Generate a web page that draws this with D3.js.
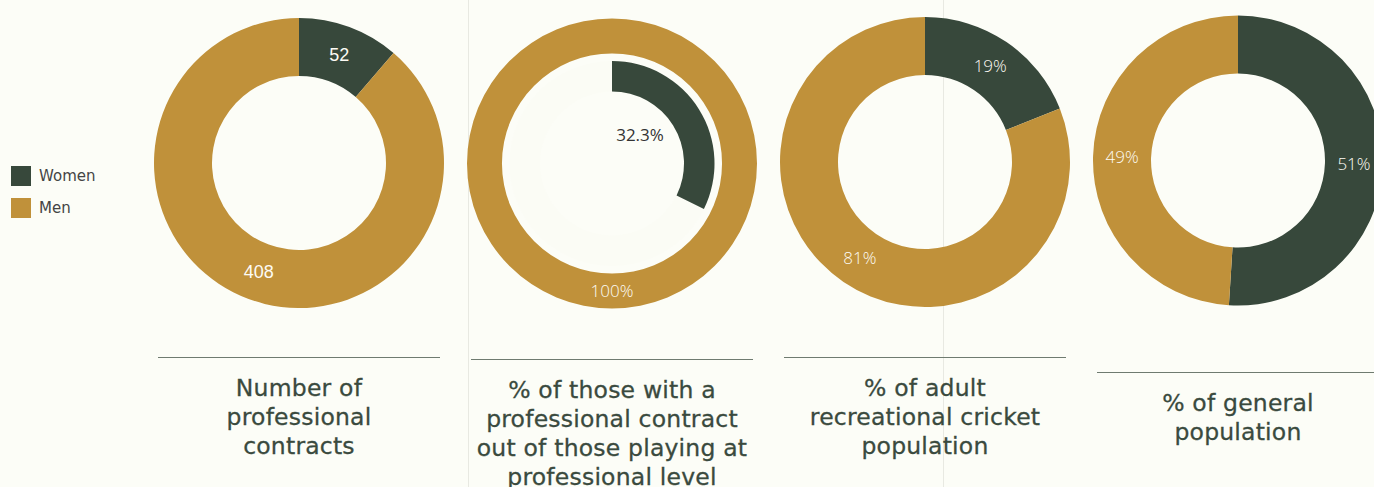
<!DOCTYPE html>
<html>
<head>
<meta charset="utf-8">
<script src="https://cdn.jsdelivr.net/npm/d3@7"></script>
<style>
  body { margin: 0; background: #fcfdf7; overflow: hidden; }
  svg { display: block; }
</style>
</head>
<body>
<main></main>
<script>
// data
const groups = ["Women", "Men"];
const contracts = [52, 408];
const proLevelShare = [32.3, 100];
const recreationalShare = [19, 81];
const generalShare = [51, 49];
const titles = [
  ["Number of", "professional", "contracts"],
  ["% of those with a", "professional contract", "out of those playing at", "professional level"],
  ["% of adult", "recreational cricket", "population"],
  ["% of general", "population"]
];

const width = 1374, height = 487;
const colors = d3.scaleOrdinal().domain(groups).range(["#37483b", "#c0913a"]);

const svg = d3.select("main")
  .append("svg")
  .attr("width", width)
  .attr("height", height);

svg.append("rect").attr("width", width).attr("height", height).attr("fill", "#fcfdf7");

// faint column dividers
[468.5, 943.5].forEach(x => {
  svg.append("line")
    .attr("x1", x).attr("x2", x)
    .attr("y1", 0).attr("y2", height)
    .attr("stroke", "#e8e9e2")
    .attr("stroke-width", 1);
});

const cx = d3.scaleLinear().domain([0, 3]).range([299, 1238]);
const cy = [163, 163.5, 162, 160.5];
const ruleY = [357.5, 359.5, 357.5, 372.5];
const angle = d3.scaleLinear().domain([0, 100]).range([0, 2 * Math.PI]);

const pie = d3.pie().sort(null);
const donut = d3.arc().innerRadius(87).outerRadius(145);

function drawDonut(i, values, fmt, labelFont) {
  const g = svg.append("g").attr("transform", "translate(" + cx(i) + "," + cy[i] + ")");
  const arcs = pie(values);
  g.selectAll("path")
    .data(arcs)
    .enter()
    .append("path")
    .attr("d", donut)
    .attr("fill", (d, j) => colors(groups[j]));
  g.selectAll("text")
    .data(arcs)
    .enter()
    .append("text")
    .attr("transform", d => "translate(" + donut.centroid(d) + ")")
    .attr("text-anchor", "middle")
    .attr("dy", "0.36em")
    .attr("fill", "#fdfbf4")
    .style("font-family", labelFont.family)
    .style("font-weight", labelFont.weight)
    .style("font-size", labelFont.size)
    .text(d => fmt(d.data));
}

const sansLabel = { family: "'Liberation Sans', Arial, sans-serif", weight: 400, size: "18px" };
const thinLabel = { family: "'Open Sans', sans-serif", weight: 300, size: "17px" };

drawDonut(0, contracts, v => v, sansLabel);
drawDonut(2, recreationalShare, v => v + "%", thinLabel);
drawDonut(3, generalShare, v => v + "%", thinLabel);

// chart 2: outer ring for men (all at professional level), inner arc for women
{
  const g = svg.append("g").attr("transform", "translate(" + cx(1) + "," + cy[1] + ")");
  const ring = d3.arc().innerRadius(110).outerRadius(145);
  const inner = d3.arc().innerRadius(72).outerRadius(102.5);
  const menArc = { startAngle: 0, endAngle: angle(proLevelShare[1]) };
  const womenArc = { startAngle: 0, endAngle: angle(proLevelShare[0]) };

  g.append("path").attr("d", ring(menArc)).attr("fill", colors("Men"));
  g.append("path").attr("d", inner({ startAngle: 0, endAngle: 2 * Math.PI })).attr("fill", "#fbfcf5");
  g.append("path").attr("d", inner(womenArc)).attr("fill", colors("Women"));

  g.append("text")
    .attr("transform", "translate(" + ring.centroid(menArc) + ")")
    .attr("text-anchor", "middle")
    .attr("dy", "0.36em")
    .attr("fill", "#fdfbf4")
    .style("font-family", thinLabel.family)
    .style("font-weight", thinLabel.weight)
    .style("font-size", thinLabel.size)
    .text(proLevelShare[1] + "%");

  g.append("text")
    .attr("x", 28)
    .attr("y", -28.5)
    .attr("text-anchor", "middle")
    .attr("dy", "0.36em")
    .attr("fill", "#333")
    .style("font-family", thinLabel.family)
    .style("font-weight", 400)
    .style("font-size", "17px")
    .text(proLevelShare[0] + "%");
}

// rules and titles
titles.forEach((lines, i) => {
  svg.append("line")
    .attr("x1", cx(i) - 141).attr("x2", cx(i) + 141)
    .attr("y1", ruleY[i]).attr("y2", ruleY[i])
    .attr("stroke", "#6f7b70")
    .attr("stroke-width", 1);
  const t = svg.append("text")
    .attr("text-anchor", "middle")
    .attr("fill", "#3a4a3e")
    .attr("stroke", "#3a4a3e")
    .attr("stroke-width", 0.3)
    .style("font-family", "'DejaVu Sans', sans-serif")
    .style("font-size", "23.5px")
    .style("letter-spacing", "0.2px");
  lines.forEach((line, j) => {
    t.append("tspan")
      .attr("x", cx(i))
      .attr("y", ruleY[i] + 30 + j * 29)
      .attr("dy", "0.36em")
      .text(line);
  });
});

// legend
const legend = svg.append("g").attr("id", "legend").attr("transform", "translate(11,166)");
groups.forEach((name, i) => {
  legend.append("rect")
    .attr("x", 0).attr("y", i * 32)
    .attr("width", 20).attr("height", 20)
    .attr("fill", colors(name));
  legend.append("text")
    .attr("x", 28).attr("y", i * 32 + 10)
    .attr("dy", "0.36em")
    .attr("fill", "#444")
    .style("font-family", "'DejaVu Sans', sans-serif")
    .style("font-size", "15px")
    .text(name);
});
</script>
</body>
</html>
